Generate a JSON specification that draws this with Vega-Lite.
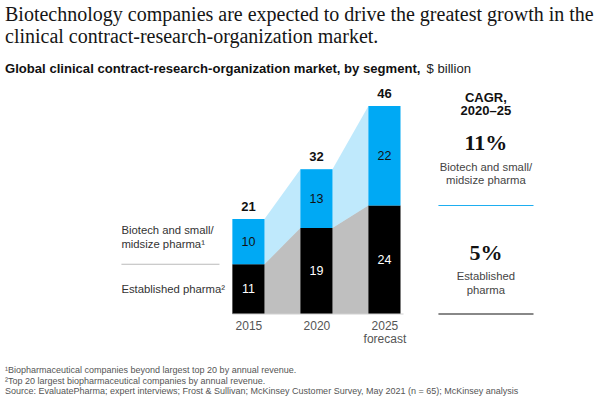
{
  "$schema": "https://vega.github.io/schema/vega-lite/v6.json",
  "padding": 5,
  "background": "white",
  "config": {"view": {"stroke": null}, "font": "Liberation Sans"},
  "title": {
    "text": ["Biotechnology companies are expected to drive the greatest growth in the", "clinical contract-research-organization market."],
    "anchor": "start",
    "font": "Liberation Serif",
    "fontSize": 20,
    "fontWeight": "normal",
    "color": "#151515",
    "lineHeight": 22,
    "offset": 16
  },
  "datasets": {
    "market": [
      {"year": 2015, "segment": "Established pharma", "value": 11},
      {"year": 2015, "segment": "Biotech and small/midsize pharma", "value": 10},
      {"year": 2020, "segment": "Established pharma", "value": 19},
      {"year": 2020, "segment": "Biotech and small/midsize pharma", "value": 13},
      {"year": 2025, "segment": "Established pharma", "value": 24},
      {"year": 2025, "segment": "Biotech and small/midsize pharma", "value": 22}
    ],
    "cagr": [
      {"segment": "Biotech and small/midsize pharma", "cagr": 0.11},
      {"segment": "Established pharma", "cagr": 0.05}
    ]
  },
  "vconcat": [
    {
      "width": 592,
      "height": 208,
      "title": {
        "text": ["¹Biopharmaceutical companies beyond largest top 20 by annual revenue.", "²Top 20 largest biopharmaceutical companies by annual revenue.", " Source: EvaluatePharma; expert interviews; Frost & Sullivan; McKinsey Customer Survey, May 2021 (n = 65); McKinsey analysis"],
        "orient": "bottom",
        "anchor": "start",
        "font": "Liberation Sans",
        "fontSize": 9,
        "fontWeight": "normal",
        "color": "#555555",
        "lineHeight": 10.5,
        "offset": 22
      },
      "layer": [
        {
          "data": {"name": "market"},
          "transform": [
            {"calculate": "[datum.year - 1.18, datum.year + 1.18]", "as": "edge"},
            {"flatten": ["edge"]}
          ],
          "mark": {"type": "area", "opacity": 0.25},
          "encoding": {
            "x": {"field": "edge", "type": "quantitative", "scale": {"domain": [1997.1, 2040.63], "nice": false, "zero": false, "padding": 0},
              "axis": {"values": [2015, 2020, 2025], "format": "d", "labelExpr": "datum.value == 2025 ? ['2025', 'forecast'] : datum.label", "domain": false, "ticks": false, "grid": false, "title": null, "labelColor": "#555555", "labelFontSize": 12, "labelFont": "Liberation Sans", "labelPadding": 6, "labelLineHeight": 13}},
            "y": {"field": "value", "type": "quantitative", "stack": "zero", "scale": {"domain": [0, 46], "nice": false, "padding": 0}, "axis": null},
            "color": {"field": "segment", "type": "nominal", "scale": {"domain": ["Established pharma", "Biotech and small/midsize pharma"], "range": ["#000000", "#00A9F4"]}, "legend": null},
            "order": {"field": "segment", "sort": "descending"}
          }
        },
        {
          "data": {"name": "market"},
          "mark": {"type": "bar", "size": 32},
          "encoding": {
            "x": {"field": "year", "type": "quantitative"},
            "y": {"field": "value", "type": "quantitative", "stack": "zero"},
            "color": {"field": "segment", "type": "nominal", "legend": null},
            "order": {"field": "segment", "sort": "descending"}
          }
        },
        {
          "data": {"values": [{}]},
          "mark": {"type": "rule", "color": "#d0d0d0", "strokeWidth": 1},
          "encoding": {
            "x": {"datum": 2013.82},
            "x2": {"datum": 2026.4},
            "y": {"datum": 0}
          }
        },
        {
          "data": {"name": "market"},
          "mark": {"type": "text", "fontSize": 12.5, "baseline": "middle", "align": "center"},
          "encoding": {
            "x": {"field": "year", "type": "quantitative"},
            "y": {"field": "value", "type": "quantitative", "stack": "zero", "bandPosition": 0.5},
            "detail": {"field": "segment"},
            "order": {"field": "segment", "sort": "descending"},
            "text": {"field": "value", "type": "quantitative"},
            "color": {"condition": {"test": "datum.segment == 'Established pharma'", "value": "#ffffff"}, "value": "#111111"}
          }
        },
        {
          "data": {"name": "market"},
          "transform": [{"aggregate": [{"op": "sum", "field": "value", "as": "total"}], "groupby": ["year"]}],
          "mark": {"type": "text", "fontSize": 13, "fontWeight": "bold", "baseline": "bottom", "align": "center", "dy": -5, "color": "#111111"},
          "encoding": {
            "x": {"field": "year", "type": "quantitative"},
            "y": {"field": "total", "type": "quantitative"},
            "text": {"field": "total", "type": "quantitative"}
          }
        },
        {
          "data": {"name": "market"},
          "transform": [{"filter": "datum.year == 2015 && datum.segment == 'Biotech and small/midsize pharma'"}],
          "mark": {"type": "text", "fontSize": 11.3, "baseline": "middle", "align": "left", "color": "#333333", "lineHeight": 14, "dy": -11},
          "encoding": {
            "x": {"datum": 2005.66},
            "y": {"datum": 16},
            "text": {"value": ["Biotech and small/", "midsize pharma¹"]}
          }
        },
        {
          "data": {"name": "market"},
          "transform": [{"filter": "datum.year == 2015"}],
          "mark": {"type": "text", "fontSize": 11.3, "baseline": "middle", "align": "left", "color": "#333333", "dy": 1},
          "encoding": {
            "x": {"datum": 2005.66},
            "y": {"field": "value", "type": "quantitative", "stack": "zero", "bandPosition": 0.5},
            "detail": {"field": "segment"},
            "order": {"field": "segment", "sort": "descending"},
            "text": {"condition": {"test": "datum.segment == 'Established pharma'", "value": "Established pharma²"}, "value": ""}
          }
        },
        {
          "data": {"name": "market"},
          "transform": [{"filter": "datum.year == 2015 && datum.segment == 'Established pharma'"}],
          "mark": {"type": "rule", "color": "#bbbbbb", "strokeWidth": 1},
          "encoding": {
            "x": {"datum": 2005.66},
            "x2": {"datum": 2012.87},
            "y": {"field": "value", "type": "quantitative"}
          }
        },
        {
          "data": {"values": [{}]},
          "mark": {"type": "text", "fontSize": 13.1, "fontWeight": "bold", "baseline": "alphabetic", "align": "left", "color": "#111111"},
          "encoding": {
            "x": {"datum": 1997.1},
            "y": {"datum": 53.19},
            "text": {"value": "Global clinical contract-research-organization market, by segment,"}
          }
        },
        {
          "data": {"values": [{}]},
          "mark": {"type": "text", "fontSize": 13.1, "fontWeight": "normal", "baseline": "alphabetic", "align": "left", "color": "#222222"},
          "encoding": {
            "x": {"datum": 2028.1},
            "y": {"datum": 53.19},
            "text": {"value": "$ billion"}
          }
        },
        {
          "data": {"values": [{}]},
          "mark": {"type": "text", "fontSize": 13, "fontWeight": "bold", "baseline": "middle", "align": "center", "color": "#111111", "lineHeight": 13.5},
          "encoding": {
            "x": {"datum": 2032.46},
            "y": {"datum": 47.77},
            "text": {"value": ["CAGR,", "2020–25"]}
          }
        },
        {
          "data": {"name": "cagr"},
          "transform": [{"filter": "datum.segment == 'Biotech and small/midsize pharma'"}],
          "mark": {"type": "text", "font": "Liberation Serif", "fontSize": 22, "fontWeight": "bold", "baseline": "middle", "align": "center", "color": "#111111"},
          "encoding": {
            "x": {"datum": 2032.46},
            "y": {"datum": 37.8},
            "text": {"field": "cagr", "type": "quantitative", "format": ".0%"}
          }
        },
        {
          "data": {"name": "cagr"},
          "transform": [{"filter": "datum.segment == 'Established pharma'"}],
          "mark": {"type": "text", "font": "Liberation Serif", "fontSize": 22, "fontWeight": "bold", "baseline": "middle", "align": "center", "color": "#111111"},
          "encoding": {
            "x": {"datum": 2032.46},
            "y": {"datum": 13.5},
            "text": {"field": "cagr", "type": "quantitative", "format": ".0%"}
          }
        },
        {
          "data": {"values": [{}]},
          "mark": {"type": "text", "fontSize": 11.3, "baseline": "middle", "align": "center", "color": "#444444", "lineHeight": 13},
          "encoding": {
            "x": {"datum": 2032.46},
            "y": {"datum": 32.29},
            "text": {"value": ["Biotech and small/", "midsize pharma"]}
          }
        },
        {
          "data": {"values": [{}]},
          "mark": {"type": "text", "fontSize": 11.3, "baseline": "middle", "align": "center", "color": "#444444", "lineHeight": 14},
          "encoding": {
            "x": {"datum": 2032.46},
            "y": {"datum": 8.18},
            "text": {"value": ["Established", "pharma"]}
          }
        },
        {
          "data": {"values": [{}]},
          "mark": {"type": "rule", "color": "#1EAEF0", "strokeWidth": 1.2},
          "encoding": {
            "x": {"datum": 2028.97},
            "x2": {"datum": 2035.96},
            "y": {"datum": 24}
          }
        },
        {
          "data": {"values": [{}]},
          "mark": {"type": "rule", "color": "#888888", "strokeWidth": 2},
          "encoding": {
            "x": {"datum": 2028.97},
            "x2": {"datum": 2035.96},
            "y": {"datum": 0}
          }
        }
      ]
    }
  ]
}
